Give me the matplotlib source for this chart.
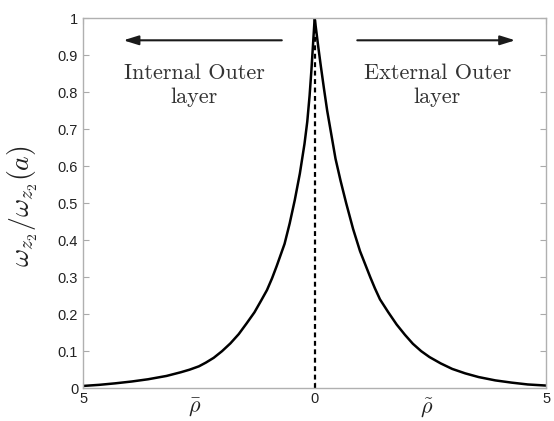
import matplotlib
matplotlib.use("Agg")
import matplotlib.pyplot as plt
from matplotlib.transforms import blended_transform_factory

plt.rcParams['mathtext.fontset'] = 'cm'
plt.rcParams['font.family'] = ['Liberation Sans', 'DejaVu Sans']

# Internal outer layer (left side), distance rho_bar from the interface
rho_bar = [0.0, 0.02, 0.04, 0.07, 0.11, 0.16, 0.22, 0.32, 0.43, 0.54, 0.65, 0.82, 0.92, 1.03,
           1.15, 1.3, 1.47, 1.64, 1.82, 2.0, 2.18, 2.35, 2.5, 2.7, 2.89, 3.2, 3.6, 3.95, 4.31, 4.65, 5.0]
omega_left = [1.0, 0.96, 0.92, 0.86, 0.79, 0.72, 0.66, 0.58, 0.508, 0.445, 0.39, 0.33, 0.297, 0.265,
              0.238, 0.205, 0.175, 0.146, 0.121, 0.1, 0.082, 0.069, 0.059, 0.05, 0.043, 0.033, 0.024,
              0.018, 0.013, 0.009, 0.006]

# External outer layer (right side), distance rho_tilde from the interface
rho_tilde = [0.0, 0.03, 0.08, 0.13, 0.2, 0.27, 0.36, 0.45, 0.56, 0.68, 0.83, 0.98, 1.09, 1.2, 1.3,
             1.41, 1.59, 1.77, 1.95, 2.12, 2.3, 2.48, 2.72, 2.97, 3.25, 3.54, 3.9, 4.25, 4.6, 5.0]
omega_right = [1.0, 0.97, 0.92, 0.873, 0.81, 0.75, 0.685, 0.62, 0.56, 0.5, 0.43, 0.37, 0.335, 0.30, 0.27,
               0.24, 0.205, 0.172, 0.144, 0.12, 0.1, 0.084, 0.067, 0.052, 0.04, 0.030, 0.021, 0.015, 0.01, 0.007]

x_ticks = [-5, 0, 5]
x_ticklabels = ["5", "0", "5"]
y_ticks = [0, 0.1, 0.2, 0.3, 0.4, 0.5, 0.6, 0.7, 0.8, 0.9, 1]
y_ticklabels = ["0", "0.1", "0.2", "0.3", "0.4", "0.5", "0.6", "0.7", "0.8", "0.9", "1"]

fig = plt.figure(figsize=(5.54, 4.21), dpi=100)
ax = fig.add_axes([0.150, 0.078, 0.836, 0.879])

ax.plot([-r for r in rho_bar], omega_left, color='black', lw=1.8, solid_capstyle='round', solid_joinstyle='round')
ax.plot(rho_tilde, omega_right, color='black', lw=1.8, solid_capstyle='round', solid_joinstyle='round')
ax.plot([0, 0], [0, 1], color='black', lw=1.6, linestyle=(0, (2.2, 1.6)))

ax.set_xlim(-5, 5)
ax.set_ylim(0, 1)
ax.set_xticks(x_ticks)
ax.set_xticklabels(x_ticklabels)
ax.set_yticks(y_ticks)
ax.set_yticklabels(y_ticklabels)
ax.tick_params(direction='in', length=4, width=0.8, colors='#aaaaaa', labelcolor='#222222',
               labelsize=10.5, top=True, right=True)
ax.tick_params(axis='x', pad=3)
for s in ax.spines.values():
    s.set_color('#b0b0b0')
    s.set_linewidth(1.0)

# arrows
ap = dict(arrowstyle='-|>,head_length=0.9,head_width=0.28', color='#1a1a1a', lw=1.5, shrinkA=0, shrinkB=0)
ax.annotate('', xy=(-4.13, 0.94), xytext=(-0.71, 0.94), arrowprops=ap)
ax.annotate('', xy=(4.33, 0.94), xytext=(0.92, 0.94), arrowprops=ap)

ax.text(-2.6, 0.818, 'Internal Outer\nlayer', family='cmr10', fontsize=16, ha='center', va='center',
        color='#333333', linespacing=1.3)
ax.text(2.65, 0.818, 'External Outer\nlayer', family='cmr10', fontsize=16, ha='center', va='center',
        color='#333333', linespacing=1.3)

trans = blended_transform_factory(ax.transData, fig.transFigure)
ax.text(-2.6, 0.03, r'$\bar{\rho}$', transform=trans, fontsize=16, ha='center', va='center', color='#222222')
ax.text(2.41, 0.03, r'$\tilde{\rho}$', transform=trans, fontsize=16, ha='center', va='center', color='#222222')

fig.text(0.042, 0.51, r'$\omega_{z_2}/\omega_{z_2}(a)$', rotation=90, fontsize=20, ha='center', va='center',
         color='#222222')

fig.savefig('out.png', dpi=100)
